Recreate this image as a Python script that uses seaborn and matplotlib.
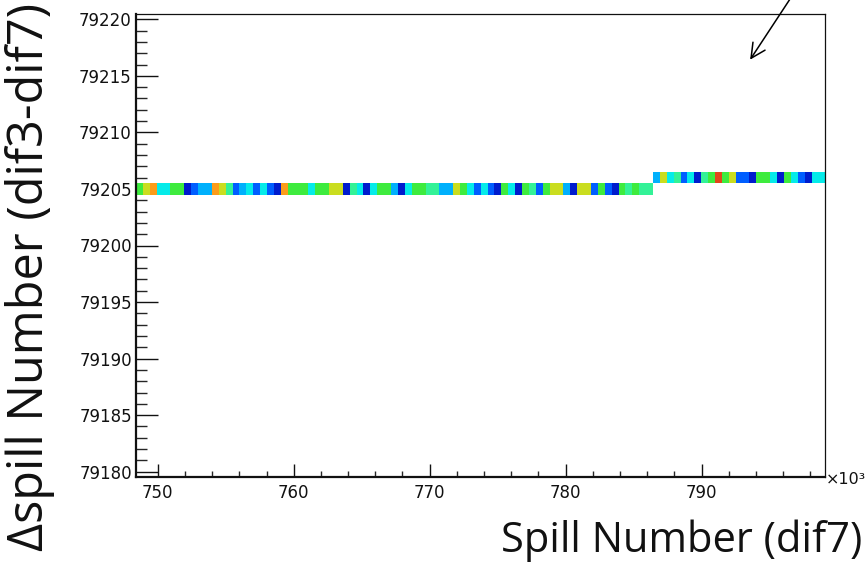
import numpy as np
import pandas as pd
import matplotlib
matplotlib.use("Agg")
import matplotlib.pyplot as plt
from matplotlib.colors import LinearSegmentedColormap
from matplotlib.ticker import MultipleLocator
import seaborn as sns

# ---- data (spill number in units of 10^3) ----
x_start = 748.4          # first bin edge (x10^3)
bin_width = 0.507        # bin width (x10^3)
dspill_levels = [79205, 79206]   # Δspill value before / after the step
step_bin = 75                    # bin index where Δspill jumps
counts_before = [6, 7, 8, 4, 4, 6, 6, 1, 2, 3, 3, 8, 7, 5, 2, 3, 4, 2, 4, 2,
                 1, 8, 6, 6, 6, 4, 6, 6, 7, 7, 1, 5, 4, 1, 4, 6, 6, 3, 1, 4,
                 6, 6, 5, 5, 3, 3, 7, 6, 4, 2, 4, 2, 1, 6, 4, 1, 6, 5, 2, 6,
                 7, 7, 3, 1, 7, 7, 2, 6, 2, 1, 6, 5, 6, 5, 5]
counts_after = [3, 7, 4, 5, 2, 4, 1, 5, 6, 9, 6, 7, 2, 2, 1, 6, 6, 4, 1, 6,
                4, 2, 1, 4, 4]
x_ticks = [750, 760, 770, 780, 790]
y_ticks = [79180, 79185, 79190, 79195, 79200, 79205, 79210, 79215, 79220]

n_bins = len(counts_before) + len(counts_after)
bin_idx = np.arange(n_bins)
centers = x_start + (bin_idx + 0.5) * bin_width
dspill = np.where(bin_idx < step_bin, dspill_levels[0], dspill_levels[1])
weights = counts_before + counts_after
df = pd.DataFrame({"spill": centers, "dspill": dspill, "w": weights})

x_edges = x_start + np.arange(n_bins + 1) * bin_width
y_edges = np.arange(dspill_levels[0] - 0.5, dspill_levels[1] + 1.0, 1.0)

# ROOT-like rainbow palette
root_cmap = LinearSegmentedColormap.from_list(
    "rootpal",
    [(0.0, 0.0, 0.65), (0.0, 0.25, 1.0), (0.0, 0.62, 1.0), (0.0, 0.92, 0.95),
     (0.2, 0.95, 0.6), (0.25, 0.92, 0.2), (0.95, 0.85, 0.1), (1.0, 0.5, 0.1),
     (0.8, 0.1, 0.1)])

sns.set_theme(style="white")
plt.rcParams["font.family"] = ["DejaVu Sans"]

fig = plt.figure(figsize=(8.68, 5.64), dpi=100)
ax = fig.add_axes([136 / 868, 1 - 476.7 / 564, (825.3 - 136) / 868, (476.7 - 14.3) / 564])

sns.histplot(data=df, x="spill", y="dspill", weights="w",
             bins=(x_edges, y_edges), cmap=root_cmap, vmin=0.5, vmax=9.5,
             ax=ax)

ax.set_xlim(748.4, 799.1)
ax.set_ylim(79179.56, 79220.44)
ax.set_xlabel("")
ax.set_ylabel("")
ax.set_xticks(x_ticks)
ax.set_yticks(y_ticks)
ax.xaxis.set_minor_locator(MultipleLocator(2))
ax.yaxis.set_minor_locator(MultipleLocator(1))
ax.tick_params(axis="x", which="major", direction="in", length=9.4, width=1.0,
               labelsize=12, pad=5, colors="#111111")
ax.tick_params(axis="x", which="minor", direction="in", length=4.3, width=1.0)
ax.tick_params(axis="y", which="major", direction="in", length=15.6, width=1.0,
               labelsize=12, pad=3, colors="#111111")
ax.tick_params(axis="y", which="minor", direction="in", length=7.7, width=1.0)
ax.tick_params(bottom=True, left=True, top=False, right=False, which="both")

for side in ["top", "right"]:
    ax.spines[side].set_linewidth(0.9)
    ax.spines[side].set_color("#111111")
for side in ["left", "bottom"]:
    ax.spines[side].set_linewidth(1.6)
    ax.spines[side].set_color("#111111")

# axis titles (large, as in the reference)
fig.text(30 / 868, 1 - 277 / 564, "Δspill Number (dif3-dif7)", rotation=90,
         ha="center", va="center", fontsize=35,
         family=["Open Sans", "DejaVu Sans"], color="#111111")
fig.text(862 / 868, 1 - 541 / 564, "Spill Number (dif7)", ha="right",
         va="center", fontsize=30, family=["Open Sans", "DejaVu Sans"],
         color="#111111")

# x10^3 multiplier
fig.text(826 / 868, 1 - 480 / 564, "×10³", ha="left", va="center",
         fontsize=11.5, color="#111111")

# arrow
ax.annotate("", xy=(748.6 / 868, 1 - 62 / 564), xycoords="figure fraction",
            xytext=(792 / 868, 1 + 4 / 564), textcoords="figure fraction",
            arrowprops=dict(arrowstyle="->", lw=1.1, color="black",
                            mutation_scale=26),
            annotation_clip=False)

fig.savefig("out.png", dpi=100)
